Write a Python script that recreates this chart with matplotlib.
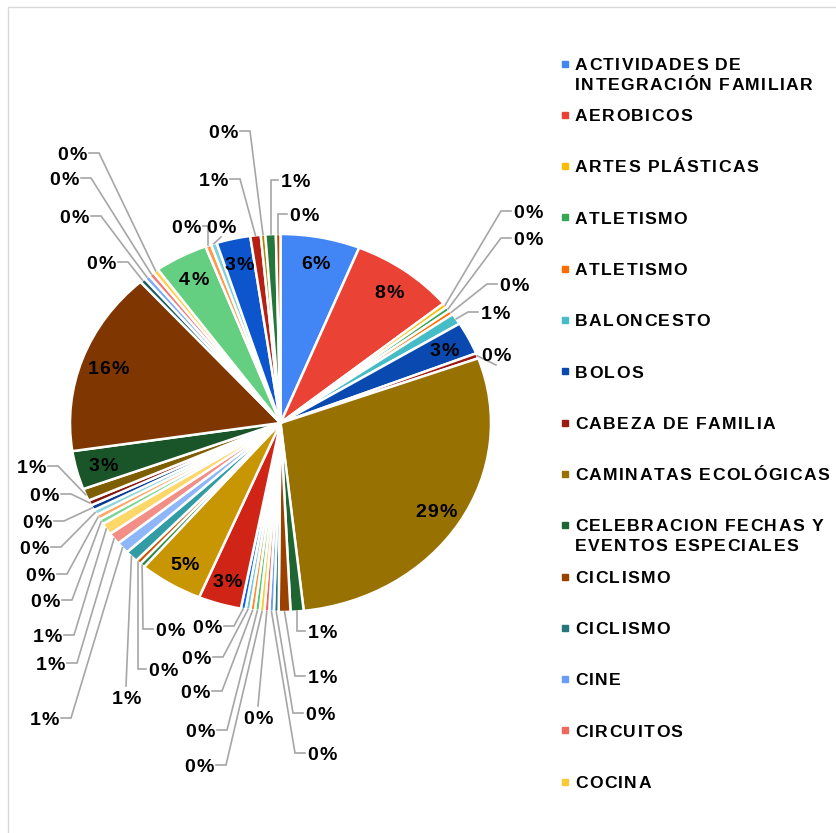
import colorsys
import matplotlib.pyplot as plt
import matplotlib.colors as mcolors
from matplotlib.font_manager import FontProperties, findfont, get_font
import numpy as np

FAMILY = ['Liberation Sans', 'DejaVu Sans']
plt.rcParams['font.family'] = FAMILY

# Activities shown in the legend (only the first fifteen are listed)
categories = [
    "ACTIVIDADES DE\nINTEGRACIÓN FAMILIAR",
    "AEROBICOS",
    "ARTES PLÁSTICAS",
    "ATLETISMO",
    "ATLETISMO",
    "BALONCESTO",
    "BOLOS",
    "CABEZA DE FAMILIA",
    "CAMINATAS ECOLÓGICAS",
    "CELEBRACION FECHAS Y\nEVENTOS ESPECIALES",
    "CICLISMO",
    "CICLISMO",
    "CINE",
    "CIRCUITOS",
    "COCINA",
]

# Share of participation (%) for every activity, in pie order
shares = [
    6.1, 8.0, 0.38, 0.38, 0.38, 0.95, 2.8, 0.45, 28.8, 1.0,
    0.9, 0.36, 0.36, 0.36, 0.36, 0.36, 0.36, 0.36, 0.36, 3.3,
    4.9, 0.4, 0.4, 1.0, 1.0, 1.0, 1.0, 0.45, 0.45, 0.45,
    0.45, 0.45, 1.05, 3.3, 15.8, 0.42, 0.42, 0.42, 0.42, 4.1,
    0.45, 0.45, 2.6, 0.8, 0.35, 0.8, 0.35,
]

# where the small-slice labels sit (pixels), None = label inside the slice
label_xy = [
    None, None, (528, 211), (528, 238), (514, 284), (495, 312), None, (496, 354), None, (322, 631),
    (322, 676), (320, 713), (322, 753), (258, 717), (199, 765), (200, 730), (195, 691), (196, 657), (207, 626), None,
    None, (170, 629), (163, 669), (126, 697), (44, 718), (50, 663), (47, 635), (45, 600), (40, 574), (34, 547),
    (37, 521), (44, 494), (31, 466), None, None, (101, 262), (74, 216), (64, 178), (72, 153), None,
    (186, 226), (221, 226), None, (213, 179), (223, 131), (295, 180), (304, 214),
]

base_colors = ["#4285F4", "#EA4335", "#FBBC04", "#34A853", "#FF6D01", "#46BDC6"]
# luminance (mod, offset) applied on each pass through the base colours
variations = [(1.0, 0.0), (0.6, 0.0), (0.8, 0.2), (0.8, 0.0), (0.6, 0.4),
              (0.5, 0.0), (0.7, 0.3), (0.7, 0.0), (0.5, 0.5)]


def shade(hex_color, mod, off):
    h, l, s = colorsys.rgb_to_hls(*mcolors.to_rgb(hex_color))
    return colorsys.hls_to_rgb(h, min(1.0, l * mod + off), s)


colors = [shade(base_colors[i % 6], *variations[i // 6]) for i in range(len(shares))]

W, H, DPI = 837, 833, 100
CX, CY, RX, RY = 280.5, 423, 210.5, 189   # pie centre and radii in pixels


def to_data(px, py):
    return (px - CX) / RX, (CY - py) / RY


fig = plt.figure(figsize=(W / DPI, H / DPI), dpi=DPI)
ax = fig.add_axes([0, 0, 1, 1])
wedges, _ = ax.pie(shares, colors=colors, startangle=90, counterclock=False,
                   wedgeprops=dict(edgecolor="white", linewidth=1.8))
ax.set_aspect("auto")
ax.set_xlim(-CX / RX, (W - CX) / RX)
ax.set_ylim((CY - H) / RY, CY / RY)
ax.axis("off")


def spaced_text(px, py, s, size, spacing, ha="left", color="black"):
    """Bold text with extra tracking between letters, centred vertically on py."""
    prop = FontProperties(family=FAMILY, weight="bold", size=size)
    font = get_font(findfont(prop))
    font.set_size(size, DPI)
    adv = [font.load_char(ord(c)).linearHoriAdvance / 65536 for c in s]
    width = sum(adv) + spacing * (len(s) - 1)
    x = px - width / 2 if ha == "center" else px
    base = py + 0.358 * size * DPI / 72
    for c, a in zip(s, adv):
        if c != " ":
            ax.text(*to_data(x, base), c, ha="left", va="baseline",
                    fontproperties=prop, color=color, clip_on=False)
        x += a + spacing


total = sum(shares)
HALF_W, HALF_H = 15, 9
for i, w in enumerate(wedges):
    text = f"{shares[i] / total * 100:.0f}%"
    mid = np.deg2rad((w.theta1 + w.theta2) / 2)
    sx, sy = CX + RX * np.cos(mid), CY - RY * np.sin(mid)
    if label_xy[i] is None:
        spaced_text(CX + 0.87 * RX * np.cos(mid), CY - 0.87 * RY * np.sin(mid),
                    text, 14, 1.0, ha="center")
        continue
    lx, ly = label_xy[i]
    if lx - HALF_W > sx + 4:
        ex = lx - HALF_W - 2
        path = [(ex, ly), (max(ex - 10, sx), ly), (sx, sy)]
    elif lx + HALF_W < sx - 4:
        ex = lx + HALF_W + 2
        path = [(ex, ly), (min(ex + 10, sx), ly), (sx, sy)]
    else:
        ey = ly - HALF_H - 2 if ly > sy else ly + HALF_H + 2
        path = [(lx, ey), (sx, sy)]
    pts = np.array([to_data(*p) for p in path])
    ax.plot(pts[:, 0], pts[:, 1], color="#a6a6a6", lw=1.2, solid_joinstyle="miter", zorder=1)
    spaced_text(lx, ly, text, 14, 1.0, ha="center")

# legend column on the right
for i, name in enumerate(categories):
    y0 = 63.5 + i * 51.3
    ax.plot(*to_data(565.5, y0), marker="s", ms=5, color=colors[i], clip_on=False)
    for k, line in enumerate(name.split("\n")):
        spaced_text(575, y0 + k * 20, line, 12.6, 1.4, color="black")

# thin chart frame
frame = np.array([to_data(8, H + 5), to_data(8, 7), to_data(W + 5, 7)])
ax.plot(frame[:, 0], frame[:, 1], color="#d9d9d9", lw=1, clip_on=False)

fig.savefig("out.png", dpi=DPI)
